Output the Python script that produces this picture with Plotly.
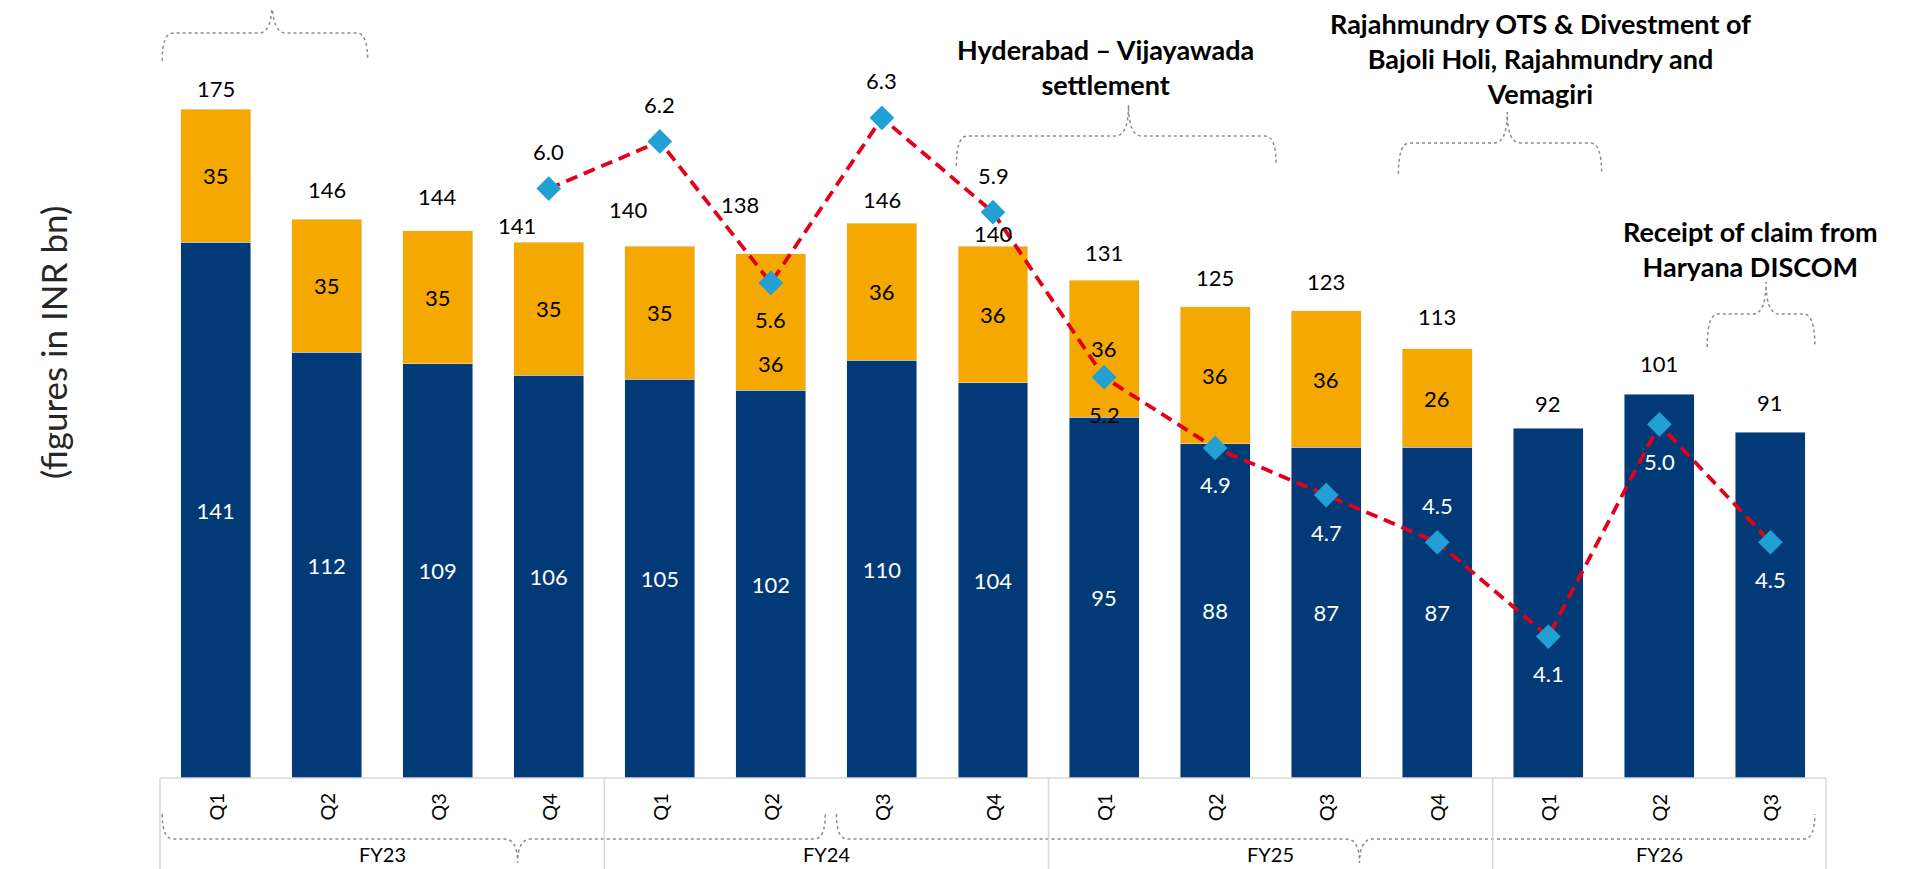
import plotly.graph_objects as go

# ---- data ----
QUARTERS = ["Q1", "Q2", "Q3", "Q4", "Q1", "Q2", "Q3", "Q4",
            "Q1", "Q2", "Q3", "Q4", "Q1", "Q2", "Q3"]
YEARS = ["FY23", "FY24", "FY25", "FY26"]
YEAR_SIZES = [4, 4, 4, 3]

BLUE = [141, 112, 109, 106, 105, 102, 110, 104, 95, 88, 87, 87, 92, 101, 91]
ORANGE = [35, 35, 35, 35, 35, 36, 36, 36, 36, 36, 36, 26, None, None, None]
TOTAL = [175, 146, 144, 141, 140, 138, 146, 140, 131, 125, 123, 113, 92, 101, 91]

LINE_START = 3
LINE = [6.0, 6.2, 5.6, 6.3, 5.9, 5.2, 4.9, 4.7, 4.5, 4.1, 5.0, 4.5]

EVENTS = [
    "Hyderabad – Vijayawada<br>settlement",
    "Rajahmundry OTS & Divestment of<br>Bajoli Holi, Rajahmundry and<br>Vemagiri",
    "Receipt of claim from<br>Haryana DISCOM",
]

# ---- styles ----
C_BLUE = "#023a78"
C_ORANGE = "#f5a800"
C_LINE = "#e3001b"
C_MARK = "#22a0d3"
C_GRID = "#d9d9d9"
C_BRACE = "#8c8c8c"
FONT = "Lato"

# page has an 8px body margin; plot area spans window y 8..778
BASE_Y, PLOT_H = 778, 770


def py(pix):
    return (BASE_Y - pix) / PLOT_H


# label nudges (px): index -> (xshift, yshift) for the total labels
TOTAL_SHIFT = {0: (0, 25), 1: (0, 34), 2: (0, 34), 3: (-32, 17), 4: (-31, 37),
               5: (-31, 49), 6: (0, 24), 7: (0, 13), 8: (0, 28), 9: (0, 26),
               10: (0, 29), 11: (0, 32), 12: (0, 25), 13: (0, 31), 14: (0, 30)}
ORANGE_SHIFT = {5: -41}
LINE_POS = ["up", "up", "down", "up", "up", "down", "down", "down", "up", "down", "down", "down"]

x = list(range(len(QUARTERS)))

fig = go.Figure()

fig.add_trace(go.Bar(
    x=x, y=BLUE, marker_color=C_BLUE, width=0.63,
    text=[str(b) if o is not None else "" for b, o in zip(BLUE, ORANGE)],
    textposition="inside", insidetextanchor="middle",
    textfont=dict(family=FONT, size=22, color="white"), showlegend=False,
))
fig.add_trace(go.Bar(
    x=x, y=ORANGE, marker_color=C_ORANGE, width=0.63, showlegend=False,
))
fig.add_trace(go.Scatter(
    x=x[LINE_START:], y=LINE, yaxis="y2", mode="lines+markers",
    line=dict(color=C_LINE, width=3.8, dash="12px,7px"),
    marker=dict(symbol="diamond", size=19, color=C_MARK),
    showlegend=False,
))

ann = []
# orange segment labels
for i, (b, o) in enumerate(zip(BLUE, ORANGE)):
    if o is None:
        continue
    ann.append(dict(x=i, y=b + o / 2, xref="x", yref="y", text=str(o), showarrow=False,
                    yshift=ORANGE_SHIFT.get(i, 0),
                    font=dict(family=FONT, size=22, color="black")))
# totals above bars
for i, t in enumerate(TOTAL):
    dx, dy = TOTAL_SHIFT.get(i, (0, 28))
    ann.append(dict(x=i, y=t, xref="x", yref="y", text=str(t), showarrow=False,
                    xshift=dx, yshift=dy, font=dict(family=FONT, size=22, color="black")))
# line labels
for k, v in enumerate(LINE):
    i = LINE_START + k
    col = "black" if i <= 8 else "white"
    ann.append(dict(x=i, y=v, xref="x", yref="y2", text=f"{v:.1f}", showarrow=False,
                    yshift=37 if LINE_POS[k] == "up" else -37,
                    font=dict(family=FONT, size=22, color=col)))
# quarter and year labels
for i, q in enumerate(QUARTERS):
    ann.append(dict(x=i, y=py(807), xref="x", yref="paper", text=q, showarrow=False,
                    textangle=-90, yanchor="middle",
                    font=dict(family=FONT, size=20, color="black")))
start = 0
for yr, n in zip(YEARS, YEAR_SIZES):
    ann.append(dict(x=start + (n - 1) / 2, y=py(854), xref="x", yref="paper", text=yr,
                    showarrow=False, yanchor="middle",
                    font=dict(family=FONT, size=20, color="black")))
    start += n
# event notes
for txt, ex, ey in zip(EVENTS, [8.01, 11.93, 13.82], [67, 59, 249]):
    ann.append(dict(x=ex, y=py(ey), xref="x", yref="paper", text=f"<b>{txt}</b>", showarrow=False,
                    yanchor="middle", font=dict(family=FONT, size=27, color="black")))
ann.append(dict(x=-0.078, y=py(343), xref="paper", yref="paper", text="(figures in INR bn)",
                showarrow=False, textangle=-90,
                font=dict(family=FONT, size=35, color="#262626")))


def brace(x0, x1, xt, ye, ym, yt, r=0.1, rt=0.12):
    ye, ym, yt = py(ye), py(ym), py(yt)
    return (f"M {x0},{ye} Q {x0},{ym} {x0 + r},{ym} L {xt - rt},{ym} "
            f"Q {xt},{ym} {xt},{yt} Q {xt},{ym} {xt + rt},{ym} "
            f"L {x1 - r},{ym} Q {x1},{ym} {x1},{ye}")


shapes = []
for b in [(-0.48, 1.37, 0.51, 61, 33, 0),
          (6.67, 9.55, 8.22, 166, 136, 105),
          (10.65, 12.48, 11.63, 174, 143, 112),
          (13.43, 14.40, 13.96, 347, 314, 282),
          (-0.48, 5.49, 2.72, 814, 839, 863),
          (5.59, 14.40, 10.30, 814, 839, 863)]:
    shapes.append(dict(type="path", xref="x", yref="paper", path=brace(*b),
                       line=dict(color=C_BRACE, width=1.5, dash="dot")))

# category table lines
shapes.append(dict(type="line", xref="paper", yref="paper", x0=0, x1=1, y0=0, y1=0,
                   line=dict(color=C_GRID, width=1.5)))
edges = [0]
for n in YEAR_SIZES:
    edges.append(edges[-1] + n)
for e in edges:
    px = e / len(QUARTERS)
    shapes.append(dict(type="line", xref="paper", yref="paper", x0=px, x1=px, y0=0, y1=-0.2,
                       line=dict(color=C_GRID, width=1.5)))

fig.update_layout(
    barmode="stack",
    width=1898, height=861,
    margin=dict(l=152, r=80, t=0, b=91),
    paper_bgcolor="white", plot_bgcolor="white",
    xaxis=dict(range=[-0.5, 14.5], visible=False),
    yaxis=dict(range=[0, PLOT_H / 3.8], visible=False),
    yaxis2=dict(range=[3.5, 3.5 + PLOT_H / 235.76], overlaying="y", visible=False),
    annotations=ann,
    shapes=shapes,
)

fig.write_html("out.html")
